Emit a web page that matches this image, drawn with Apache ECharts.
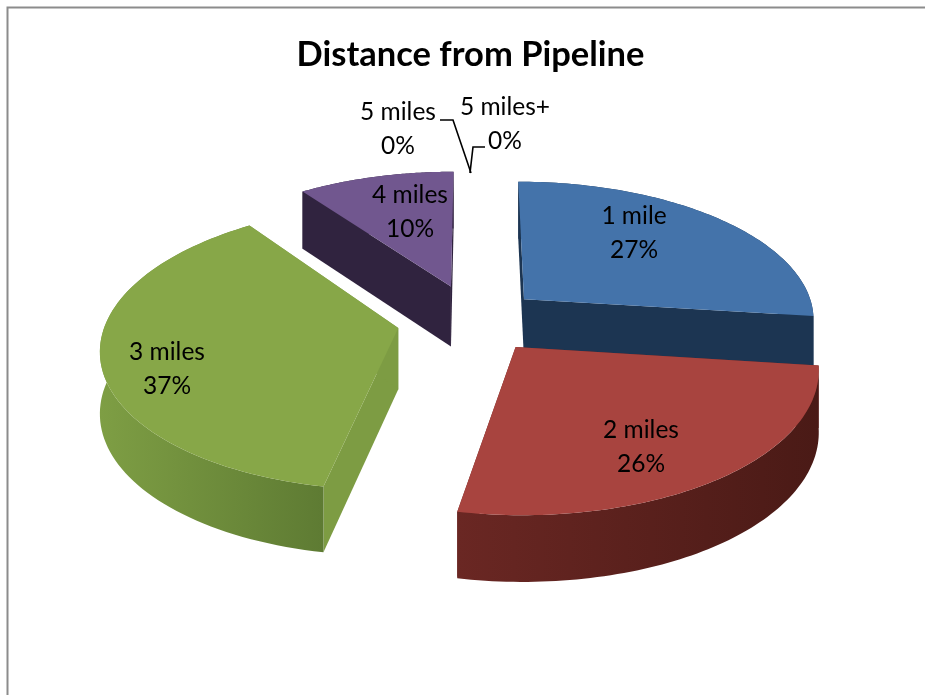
<!DOCTYPE html>
<html><head><meta charset="utf-8">
<style>html,body{margin:0;padding:0;background:#fff}#c{width:925px;height:695px}</style>
<script src="https://cdn.jsdelivr.net/npm/echarts@6/dist/echarts.min.js"></script>
</head><body><div id="c"></div>
<script>
const chartTitle = 'Distance from Pipeline';
const categories = ['1 mile','2 miles','3 miles','4 miles','5 miles','5 miles+'];
const percents = [27,26,37,10,0,0];
const drawOrder = [3,0,2,1,4,5];

const topColors = ['#4473aa','#a8443f','#87a748','#71578f'];
const radialColors = ['#1c3552','#6b2522','#7d9c43','#30233f'];
const arcColors = [['#1c3552','#1c3552'],['#6a2723','#4a1a16'],['#7e9e44','#5e7b33'],['#30233f','#30233f']];
const explodes = [68,69,77,77];
const labelCenters = [[634,233],[641,447],[167,369],[410,212],[398,129],[505,124]];
const leaderLines = {4:[[440,120],[453,120],[471,173]],5:[[485,147],[473,147],[470,173]]};
const labelFont = 'Lato';

const CX=474, CY=320, R=292, P=0.132, S=0.473, DEPTH=61, ROT=0;
const total = percents.reduce((a,b)=>a+b,0);
function project(u,v,drop){
  const k = 1/(1-P*v/R);
  return [CX+u*k, CY+S*v*k+(drop||0)*(1+(k-1)*0.5)];
}
function renderItem(params,api){
  const idx = api.value(0), val = api.value(1);
  const children = [];
  if(val>0){
    let before=0; for(let i=0;i<idx;i++) before+=percents[i];
    const a0=(before/total*360+ROT)*Math.PI/180, a1=((before+val)/total*360+ROT)*Math.PI/180, mid=(a0+a1)/2;
    const u0=explodes[idx]*Math.sin(mid), v0=-explodes[idx]*Math.cos(mid);
    const arc=[]; const N=80;
    for(let i=0;i<=N;i++){const a=a0+(a1-a0)*i/N; arc.push([u0+R*Math.sin(a),v0-R*Math.cos(a)]);}
    const top=[project(u0,v0)].concat(arc.map(q=>project(q[0],q[1])));
    const base=[project(u0,v0,DEPTH)].concat(arc.map(q=>project(q[0],q[1],DEPTH)));
    const first=arc[0], last=arc[N];
    const wall=(p,f)=>({type:'polygon',shape:{points:[project(u0,v0),project(p[0],p[1]),project(p[0],p[1],DEPTH),project(u0,v0,DEPTH)]},style:{fill:f}});
    children.push(wall(first,radialColors[idx]));
    children.push(wall(last,radialColors[idx]));
    const strip=top.slice(1).concat(base.slice(1).reverse());
    children.push({type:'polygon',shape:{points:strip},style:{fill:{type:'linear',x:0,y:0,x2:1,y2:0,colorStops:[{offset:0,color:arcColors[idx][0]},{offset:1,color:arcColors[idx][1]}]}}});
    children.push({type:'polygon',shape:{points:top},style:{fill:topColors[idx]}});
  }
  if(leaderLines[idx]) children.push({type:'polyline',z2:90,shape:{points:leaderLines[idx]},style:{stroke:'#000',lineWidth:1.6,fill:'none'}});
  const c=labelCenters[idx];
  children.push({type:'text',z2:100,style:{x:c[0],y:c[1],text:categories[idx]+'\n'+val+'%',align:'center',verticalAlign:'middle',fill:'#000',font:'24.5px '+labelFont,lineHeight:34}});
  return {type:'group',children};
}
const chart=echarts.init(document.getElementById('c'),null,{renderer:'canvas'});
chart.setOption({
  animation:false,
  backgroundColor:'#fff',
  title:{text:chartTitle,left:465.5,top:32,textAlign:'center',textStyle:{fontFamily:labelFont,fontWeight:'bold',fontSize:34.5,color:'#000'}},
  graphic:[{type:'polyline',shape:{points:[[7.5,695],[7.5,7.5],[925,7.5]]},style:{stroke:'#8c8c8c',lineWidth:2,fill:'none'}}],
  series:[{type:'custom',coordinateSystem:'none',renderItem,data:drawOrder.map(i=>[i,percents[i]]),silent:true}]
});
</script></body></html>
